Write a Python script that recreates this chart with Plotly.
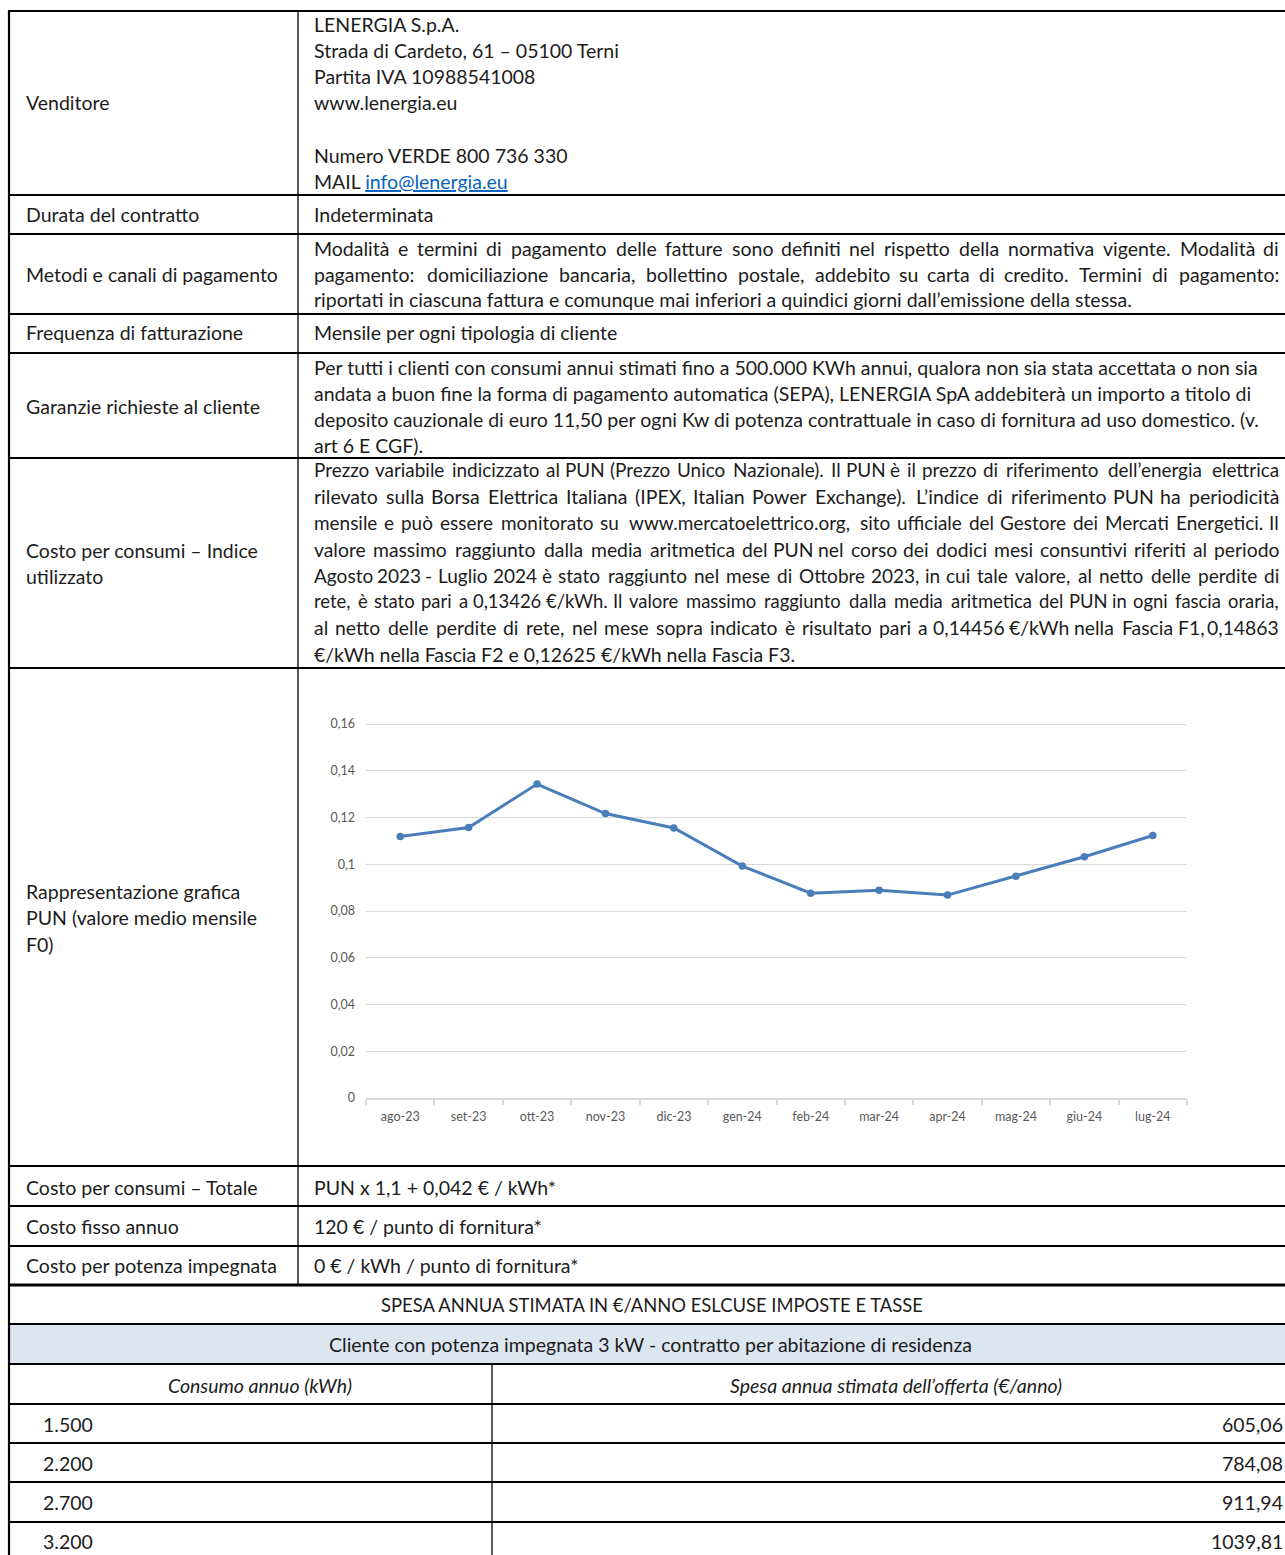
import plotly.graph_objects as go

W, H = 1285, 1555
FONT = "Lato"
FS = 19.5
FW = 400
TXT = "#1c1c1c"
CAL_SIZE = 21.2

# ---------------- chart data ----------------
months = ["ago-23", "set-23", "ott-23", "nov-23", "dic-23", "gen-24",
          "feb-24", "mar-24", "apr-24", "mag-24", "giu-24", "lug-24"]
pun_values = [0.1119, 0.1157, 0.1343, 0.1217, 0.1155, 0.0992,
              0.0876, 0.0889, 0.0868, 0.0949, 0.1032, 0.1123]
y_tick_values = [0, 0.02, 0.04, 0.06, 0.08, 0.10, 0.12, 0.14, 0.16]
y_tick_labels = ["0", "0,02", "0,04", "0,06", "0,08", "0,1", "0,12", "0,14", "0,16"]

# ---------------- table texts ----------------
venditore_lines = ["LENERGIA S.p.A.", "Strada di Cardeto, 61 – 05100 Terni",
                   "Partita IVA 10988541008", "www.lenergia.eu", "",
                   "Numero VERDE 800 736 330",
                   "MAIL <span style='color:#0563c1'><u>info@lenergia.eu</u></span>"]
metodi_lines = [
    "Modalità e termini di pagamento delle fatture sono definiti nel rispetto della normativa vigente. Modalità di",
    "pagamento: domiciliazione bancaria, bollettino postale, addebito su carta di credito. Termini di pagamento:",
    "riportati in ciascuna fattura e comunque mai inferiori a quindici giorni dall’emissione della stessa.",
]
garanzie_lines = [
    "Per tutti i clienti con consumi annui stimati fino a 500.000 KWh annui, qualora non sia stata accettata o non sia",
    "andata a buon fine la forma di pagamento automatica (SEPA), LENERGIA SpA addebiterà un importo a titolo di",
    "deposito cauzionale di euro 11,50 per ogni Kw di potenza contrattuale in caso di fornitura ad uso domestico. (v.",
    "art 6 E CGF).",
]
indice_lines = [
    "Prezzo variabile indicizzato al PUN (Prezzo Unico Nazionale). Il PUN è il prezzo di riferimento dell’energia elettrica",
    "rilevato sulla Borsa Elettrica Italiana (IPEX, Italian Power Exchange). L’indice di riferimento PUN ha periodicità",
    "mensile e può essere monitorato su www.mercatoelettrico.org, sito ufficiale del Gestore dei Mercati Energetici. Il",
    "valore massimo raggiunto dalla media aritmetica del PUN nel corso dei dodici mesi consuntivi riferiti al periodo",
    "Agosto 2023 - Luglio 2024 è stato raggiunto nel mese di Ottobre 2023, in cui tale valore, al netto delle perdite di",
    "rete, è stato pari a 0,13426 €/kWh. Il valore massimo raggiunto dalla media aritmetica del PUN in ogni fascia oraria,",
    "al netto delle perdite di rete, nel mese sopra indicato è risultato pari a 0,14456 €/kWh nella Fascia F1, 0,14863",
    "€/kWh nella Fascia F2 e 0,12625 €/kWh nella Fascia F3.",
]
left_labels = [
    ["Venditore"], ["Durata del contratto"], ["Metodi e canali di pagamento"],
    ["Frequenza di fatturazione"], ["Garanzie richieste al cliente"],
    ["Costo per consumi – Indice", "utilizzato"],
    ["Rappresentazione grafica", "PUN (valore medio mensile", "F0)"],
    ["Costo per consumi – Totale"], ["Costo fisso annuo"], ["Costo per potenza impegnata"],
]
simple_values = ["Indeterminata", "Mensile per ogni tipologia di cliente",
                 "PUN x 1,1 + 0,042 € / kWh*", "120 € / punto di fornitura*",
                 "0 € / kWh / punto di fornitura*"]

spesa_title = "SPESA ANNUA STIMATA IN €/ANNO ESLCUSE IMPOSTE E TASSE"
cliente_title = "Cliente con potenza impegnata 3 kW - contratto per abitazione di residenza"
col_headers = ["Consumo annuo (kWh)", "Spesa annua stimata dell’offerta (€/anno)"]
consumo_kwh = ["1.500", "2.200", "2.700", "3.200"]
spesa_annua = ["605,06", "784,08", "911,94", "1039,81"]

# approximate relative glyph widths (em) of the reference typeface, used for justification
CAL = {'a': .479, 'b': .525, 'c': .423, 'd': .525, 'e': .498, 'f': .305, 'g': .471, 'h': .525,
       'i': .229, 'j': .239, 'k': .455, 'l': .229, 'm': .799, 'n': .525, 'o': .527, 'p': .525,
       'q': .525, 'r': .349, 's': .391, 't': .335, 'u': .525, 'v': .452, 'w': .715, 'x': .433,
       'y': .453, 'z': .395, 'A': .579, 'B': .544, 'C': .533, 'D': .615, 'E': .488, 'F': .459,
       'G': .631, 'H': .623, 'I': .252, 'J': .319, 'K': .520, 'L': .420, 'M': .855, 'N': .646,
       'O': .662, 'P': .517, 'Q': .673, 'R': .543, 'S': .459, 'T': .487, 'U': .642, 'V': .567,
       'W': .890, 'X': .519, 'Y': .487, 'Z': .468, ' ': .226, '.': .252, ',': .250, ':': .268,
       ';': .268, '(': .303, ')': .303, '-': .306, '–': .498, '’': .250, "'": .221, '€': .507,
       '/': .386, '@': .899, '*': .498, 'à': .479, 'è': .498, 'é': .498, 'ò': .527, 'ù': .525,
       'ì': .229}


def cal_w(s):
    return sum(CAL.get(c, .507) for c in s)


annotations = []
shapes = []


def px_x(x):
    return x / W


def px_y(y):
    return 1 - y / H


def add_text(x, y, s, anchor="left", size=FS, color=TXT):
    annotations.append(dict(
        x=px_x(x), y=px_y(y), xref="paper", yref="paper", text=s, showarrow=False,
        xanchor=anchor, yanchor="middle", align=anchor, borderpad=0,
        font=dict(family=FONT, size=size, color=color, weight=FW)))


def justify(line, y, L=313, R=1280, min_gap=6.0):
    words = line.split(" ")
    ws = [cal_w(w) * CAL_SIZE for w in words]
    n = len(words)
    natural = sum(ws)
    size = FS
    if (R - L - natural) < min_gap * (n - 1):
        f = (R - L - min_gap * (n - 1)) / natural
        ws = [w * f for w in ws]
        size = FS * f
        natural = sum(ws)
    gap = (R - L - natural) / (n - 1)
    x = L
    for i, (wd, ww) in enumerate(zip(words, ws)):
        if i == 0:
            add_text(L, y, wd, "left", size)
        elif i == n - 1:
            add_text(R, y, wd, "right", size)
        else:
            add_text(x + ww / 2, y, wd, "center", size)
        x += ww + gap


def hline(y, x0, x1, w=2.0):
    shapes.append(dict(type="line", xref="paper", yref="paper", x0=px_x(x0), x1=px_x(x1),
                       y0=px_y(y), y1=px_y(y), line=dict(color="#000000", width=w)))


def vline(x, y0, y1, w=1.5):
    shapes.append(dict(type="line", xref="paper", yref="paper", x0=px_x(x), x1=px_x(x),
                       y0=px_y(y0), y1=px_y(y1), line=dict(color="#000000", width=w)))


# ---------------- table geometry ----------------
XL, XD, XR = 9, 298, 1285
row_edges = [11, 195, 234, 314, 353, 458, 668, 1166, 1206, 1246, 1285]
bottom_edges = [1324, 1364, 1404, 1443, 1482, 1522]
XD2 = 492

shapes.append(dict(type="rect", xref="paper", yref="paper", x0=px_x(XL), x1=px_x(XR),
                   y0=px_y(1364), y1=px_y(1324), fillcolor="#dce6f1", line=dict(width=0),
                   layer="below"))
for i, y in enumerate(row_edges):
    hline(y, XL, XR, 3.0 if i == len(row_edges) - 1 else 2.0)
for y in bottom_edges:
    hline(y, XL, XR, 2.0)
vline(XL, 10, 1555, 2.2)
vline(XD, 11, 1285, 1.3)
vline(XD2, 1364, 1555, 1.3)

# ---------------- left labels ----------------
label_y = [[103], [215], [274], [333], [406], [550, 576], [892, 918, 944], [1187], [1226], [1265]]
for lines, ys in zip(left_labels, label_y):
    for s, y in zip(lines, ys):
        add_text(25, y, s)

# ---------------- right column ----------------
for s, y in zip(venditore_lines, [25, 51, 77, 103, 129, 155, 182]):
    if s:
        add_text(313, y, s)

for s, y in zip(simple_values, [215, 333, 1187, 1226, 1265]):
    add_text(313, y, s)

met_y = [248, 274, 300]
for i, (s, y) in enumerate(zip(metodi_lines, met_y)):
    if i < len(metodi_lines) - 1:
        justify(s, y)
    else:
        add_text(313, y, s)

for s, y in zip(garanzie_lines, [367, 393, 419, 445]):
    add_text(313, y, s)

ind_y = [470, 496, 522, 549, 575, 601, 627, 654]
for i, (s, y) in enumerate(zip(indice_lines, ind_y)):
    if i < len(indice_lines) - 1:
        justify(s, y)
    else:
        add_text(313, y, s)

# ---------------- bottom table ----------------
add_text(652, 1305, spesa_title, "center", 18.4)
add_text(650, 1344, cliente_title, "center")
add_text(260, 1385, "<i>" + col_headers[0] + "</i>", "center")
add_text(896, 1385, "<i>" + col_headers[1] + "</i>", "center")
for c, s, y in zip(consumo_kwh, spesa_annua, [1424, 1463, 1502, 1541]):
    add_text(42, y, c)
    add_text(1284, y, s, "right")

# ---------------- chart ----------------
fig = go.Figure()
fig.add_trace(go.Scatter(
    x=months, y=pun_values, mode="lines+markers",
    line=dict(color="#4a7ebb", width=3),
    marker=dict(color="#4a7ebb", size=7.5),
    hoverinfo="skip", showlegend=False))

tick_font = dict(family=FONT, size=12.5, color="#595959")
fig.update_layout(
    width=W, height=H, margin=dict(l=0, r=0, t=0, b=0, autoexpand=False),
    paper_bgcolor="white", plot_bgcolor="white", showlegend=False,
    xaxis=dict(domain=[px_x(366), px_x(1187)], type="category", range=[-0.5, 11.5],
               showgrid=False, showline=True, linecolor="#d9d9d9", linewidth=1.5,
               ticks="outside", tickson="boundaries", ticklen=5, tickcolor="#d9d9d9",
               tickwidth=1.5, tickfont=tick_font, ticklabelstandoff=6,
               automargin=False, fixedrange=True),
    yaxis=dict(domain=[px_y(1098), px_y(721.2)], range=[0, 0.1612],
               tickvals=y_tick_values, ticktext=y_tick_labels,
               showgrid=True, gridcolor="#d9d9d9", gridwidth=1.3, zeroline=False,
               showline=False, ticks="", tickfont=tick_font, ticklabelstandoff=10,
               automargin=False, fixedrange=True),
    shapes=shapes, annotations=annotations,
)

fig.write_html(
    "out.html",
    config={"displayModeBar": False, "responsive": False},
    post_script=("document.documentElement.style.margin='0';"
                 "document.body.style.margin='0';"
                 "document.body.style.overflow='hidden';"
                 "document.documentElement.style.overflow='hidden';"),
)
